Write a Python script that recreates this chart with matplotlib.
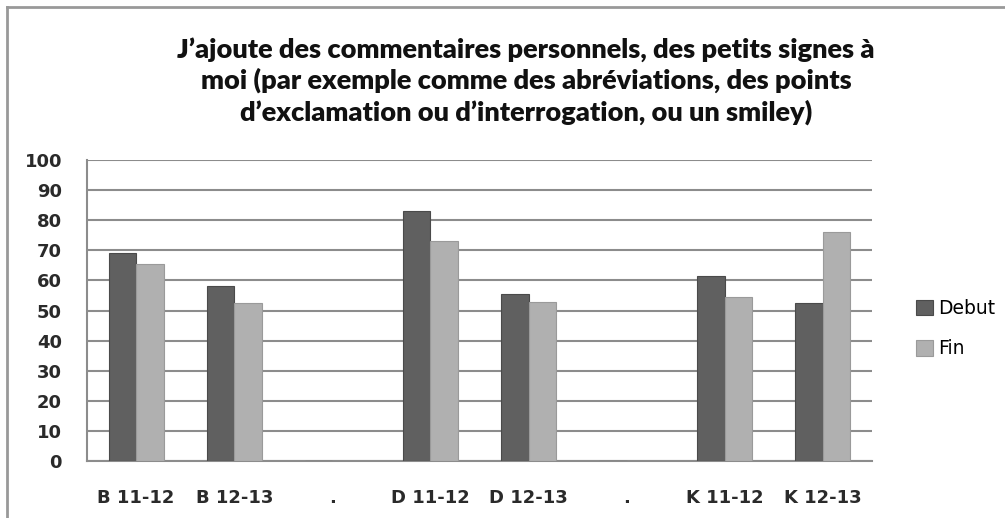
import numpy as np
import matplotlib
matplotlib.use("Agg")
import matplotlib.pyplot as plt
from matplotlib.lines import Line2D

categories = ["B 11-12", "B 12-13", ".", "D 11-12", "D 12-13", ".", "K 11-12", "K 12-13"]
debut = [69, 58, 0, 83, 55.5, 0, 61.5, 52.5]
fin = [65.3, 52.5, 0, 73, 53, 0, 54.5, 76]
yticks = [0, 10, 20, 30, 40, 50, 60, 70, 80, 90, 100]

title = ("J\u2019ajoute des commentaires personnels, des petits signes \u00e0\n"
         "moi (par exemple comme des abr\u00e9viations, des points\n"
         "d\u2019exclamation ou d\u2019interrogation, ou un smiley)")

fig = plt.figure(figsize=(10.05, 5.18), dpi=100)
ax = fig.add_axes([0.0866, 0.110, 0.781, 0.581])

x = np.arange(len(categories))
w = 0.28
ax.bar(x - w / 2, debut, w, color="#606060", edgecolor="#4a4a4a", linewidth=0.8, label="Debut", zorder=3)
ax.bar(x + w / 2, fin, w, color="#b0b0b0", edgecolor="#9a9a9a", linewidth=0.8, label="Fin", zorder=3)

ax.set_xlim(-0.5, len(categories) - 0.5)
ax.set_ylim(0, 100)
ax.set_yticks(yticks)
ax.set_xticks(x)
ax.set_xticklabels(categories)
ax.yaxis.grid(True, color="#8c8c8c", linewidth=1.5, zorder=0)
for s in ["top", "right"]:
    ax.spines[s].set_visible(False)
for s in ["left", "bottom"]:
    ax.spines[s].set_color("#8c8c8c")
    ax.spines[s].set_linewidth(1.5)
ax.tick_params(axis="y", length=0, pad=18, labelsize=13, labelcolor="#2a2a2a")
ax.tick_params(axis="x", length=0, pad=20, labelsize=13, labelcolor="#2a2a2a")
for lab in ax.get_yticklabels() + ax.get_xticklabels():
    lab.set_fontweight("bold")

ax.legend(loc="center left", bbox_to_anchor=(1.035, 0.44), frameon=False, fontsize=13.5,
          handlelength=0.9, handleheight=0.9, handletextpad=0.25, labelspacing=1.15)

fig.text(526 / 1005, 1 - 81 / 518, title, ha="center", va="center", fontsize=19.5,
         fontweight="heavy", family="Lato", linespacing=1.3, color="#111111")

# outer frame (top and left edges)
fig.add_artist(Line2D([7 / 1005, 1], [1 - 7 / 518, 1 - 7 / 518], color="#999999", linewidth=2))
fig.add_artist(Line2D([7 / 1005, 7 / 1005], [0, 1 - 7 / 518], color="#999999", linewidth=2))

plt.savefig("out.png", dpi=100)
